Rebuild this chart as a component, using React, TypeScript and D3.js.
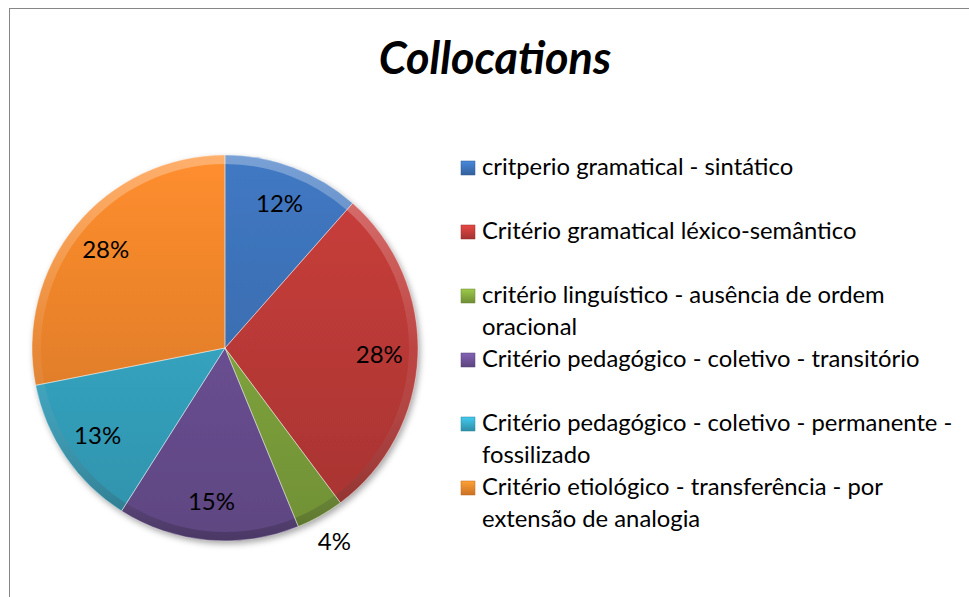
import React from "react";
import * as d3 from "d3";

const title = "Collocations";
const categories = [
  "critperio gramatical - sintático",
  "Critério gramatical léxico-semântico",
  "critério linguístico - ausência de ordem oracional",
  "Critério pedagógico - coletivo - transitório",
  "Critério pedagógico - coletivo - permanente - fossilizado",
  "Critério etiológico - transferência - por extensão de analogia",
];
const legendLines = [
  ["critperio gramatical - sintático"],
  ["Critério gramatical léxico-semântico"],
  ["critério linguístico - ausência de ordem", "oracional"],
  ["Critério pedagógico - coletivo - transitório"],
  ["Critério pedagógico - coletivo - permanente -", "fossilizado"],
  ["Critério etiológico - transferência - por", "extensão de analogia"],
];
const values = [11.5, 28.3, 4.0, 15.2, 12.9, 28.1];
const colors = ["#3b6fb3", "#bb3a37", "#7fa33c", "#6a4f92", "#35a4c1", "#e9822a"];

const W = 969;
const H = 597;
const cx = 225;
const cy = 348;
const R = 193;
const FONT = "Lato, 'Open Sans', sans-serif";

export default function App() {
  const total = d3.sum(values);
  const pie = d3.pie<number>().sort(null).value((d) => d);
  const arcs = pie(values);
  const arc = d3.arc<d3.PieArcDatum<number>>().innerRadius(0).outerRadius(R);
  const rim = d3.arc<d3.PieArcDatum<number>>().innerRadius(R - 9).outerRadius(R);
  const labelArc = d3.arc<d3.PieArcDatum<number>>().innerRadius(R * 0.8).outerRadius(R * 0.8);
  const outArc = d3.arc<d3.PieArcDatum<number>>().innerRadius(R * 1.15).outerRadius(R * 1.15);

  const legendX = 461;
  const legendY0 = 175;
  const itemStep = 64;
  const lineStep = 31.5;

  return (
    <div style={{ position: "fixed", left: 0, top: 0 }}>
      <svg width={W} height={H} style={{ display: "block", background: "#fff" }}>
        <defs>
          <filter id="shadow" x="-20%" y="-20%" width="140%" height="140%">
            <feDropShadow dx="2" dy="3" stdDeviation="3" floodColor="#000" floodOpacity="0.35" />
          </filter>
          {colors.map((c, i) => (
            <linearGradient
              key={i}
              id={`g${i}`}
              gradientUnits="userSpaceOnUse"
              x1="0"
              y1={-R}
              x2="0"
              y2={R}
            >
              <stop offset="0" stopColor={d3.color(c)!.brighter(0.25).formatHex()} />
              <stop offset="1" stopColor={d3.color(c)!.darker(0.35).formatHex()} />
            </linearGradient>
          ))}
          <linearGradient id="rimg" gradientUnits="userSpaceOnUse" x1="0" y1={-R} x2="0" y2={R}>
            <stop offset="0" stopColor="#fff" stopOpacity="0.3" />
            <stop offset="0.5" stopColor="#fff" stopOpacity="0.06" />
            <stop offset="1" stopColor="#000" stopOpacity="0.22" />
          </linearGradient>
          {colors.map((c, i) => (
            <linearGradient key={`l${i}`} id={`lg${i}`} x1="0" y1="0" x2="0" y2="1">
              <stop offset="0" stopColor={d3.color(c)!.brighter(0.6).formatHex()} />
              <stop offset="1" stopColor={d3.color(c)!.darker(0.4).formatHex()} />
            </linearGradient>
          ))}
        </defs>
        <rect x={9.5} y={8.5} width={W} height={H} fill="#fff" stroke="#868686" strokeWidth={1} />
        <text
          x={495}
          y={74}
          textAnchor="middle"
          fontFamily={FONT}
          fontWeight="bold"
          fontStyle="italic"
          fontSize={45}
          fill="#000"
        >
          {title}
        </text>
        <g transform={`translate(${cx},${cy})`}>
          <g filter="url(#shadow)">
            {arcs.map((a, i) => (
              <path key={i} d={arc(a)!} fill={`url(#g${i})`} />
            ))}
          </g>
          {arcs.map((a, i) => (
            <path key={`r${i}`} d={rim(a)!} fill="url(#rimg)" />
          ))}
          {arcs.map((a, i) => (
            <path
              key={`s${i}`}
              d={arc(a)!}
              fill="none"
              stroke="#fff"
              strokeOpacity={0.35}
              strokeWidth={1}
            />
          ))}
          {arcs.map((a, i) => {
            const pct = (a.data / total) * 100;
            const [x, y] = pct < 5 ? outArc.centroid(a) : labelArc.centroid(a);
            return (
              <text
                key={`t${i}`}
                x={x}
                y={y}
                dy="0.35em"
                textAnchor="middle"
                fontFamily={FONT}
                fontSize={24}
                fill="#000"
              >
                {`${Math.round(pct)}%`}
              </text>
            );
          })}
        </g>
        <g>
          {categories.map((c, i) => {
            const y = legendY0 + i * itemStep;
            return (
              <g key={c}>
                <rect
                  x={legendX}
                  y={y - 14}
                  width={14}
                  height={14}
                  fill={`url(#lg${i})`}
                  stroke={d3.color(colors[i])!.darker(0.6).formatHex()}
                  strokeWidth={0.5}
                />
                <text fontFamily={FONT} fontSize={23.8} fill="#000">
                  {legendLines[i].map((l, j) => (
                    <tspan key={j} x={legendX + 21} y={y + j * lineStep}>
                      {l}
                    </tspan>
                  ))}
                </text>
              </g>
            );
          })}
        </g>
      </svg>
    </div>
  );
}
